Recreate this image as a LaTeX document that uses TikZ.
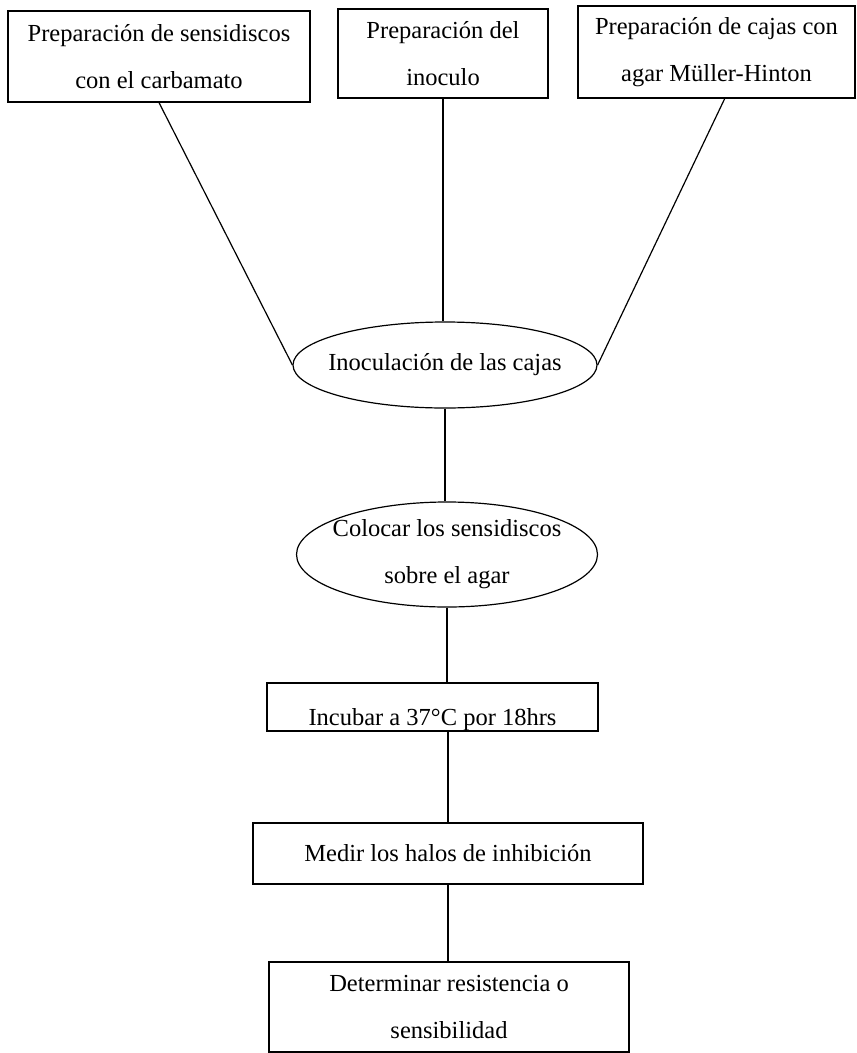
\documentclass[tikz,border=0pt]{standalone}
\usepackage{fontspec}
\setmainfont{Liberation Serif}
\usetikzlibrary{shapes}

\begin{document}
\begin{tikzpicture}[x=1pt, y=-1pt, line width=1.2pt,
        font=\fontsize{24.5}{47}\selectfont,
        caja/.style={draw, rectangle, inner sep=0pt, align=center},
        ovalo/.style={draw, ellipse, inner xsep=-12pt, inner ysep=0pt, align=center}]
        \useasboundingbox (0,0) rectangle (857,1053);
        \node[caja, minimum width=302, minimum height=91] (prepdiscos) at (159,56.5) {Preparación de sensidiscos\\con el carbamato};
        \node[caja, minimum width=210, minimum height=89] (prepinoculo) at (443,53.5) {Preparación del\\inoculo};
        \node[caja, minimum width=277, minimum height=92] (prepcajas) at (716.5,52) {Preparación de cajas con\\agar Müller-Hinton};
        \node[ovalo, minimum width=304, minimum height=86] (inoculacion) at (445,365) {Inoculación de las cajas};
        \node[ovalo, minimum width=301, minimum height=105] (colocar) at (447,554.5) {Colocar los sensidiscos\\sobre el agar};
        \node[caja, minimum width=331, minimum height=48, text height=37pt, text depth=0pt] (incubar) at (432.5,707) {Incubar a 37°C por 18hrs};
        \node[caja, minimum width=390, minimum height=61] (medir) at (448,853.5) {Medir los halos de inhibición};
        \node[caja, minimum width=360, minimum height=90] (determinar) at (449,1007) {Determinar resistencia o\\sensibilidad};
        \draw (prepdiscos.south) -- (inoculacion.west);
        \draw (prepinoculo.south) -- (prepinoculo.south |- inoculacion.north);
        \draw (prepcajas.-80) -- (inoculacion.east);
        \draw (inoculacion.south) -- (inoculacion.south |- colocar.north);
        \draw (colocar.south) -- (colocar.south |- incubar.north);
        \draw (medir.north |- incubar.south) -- (medir.north);
        \draw (medir.south) -- (medir.south |- determinar.north);
    \end{tikzpicture}
\end{document}
